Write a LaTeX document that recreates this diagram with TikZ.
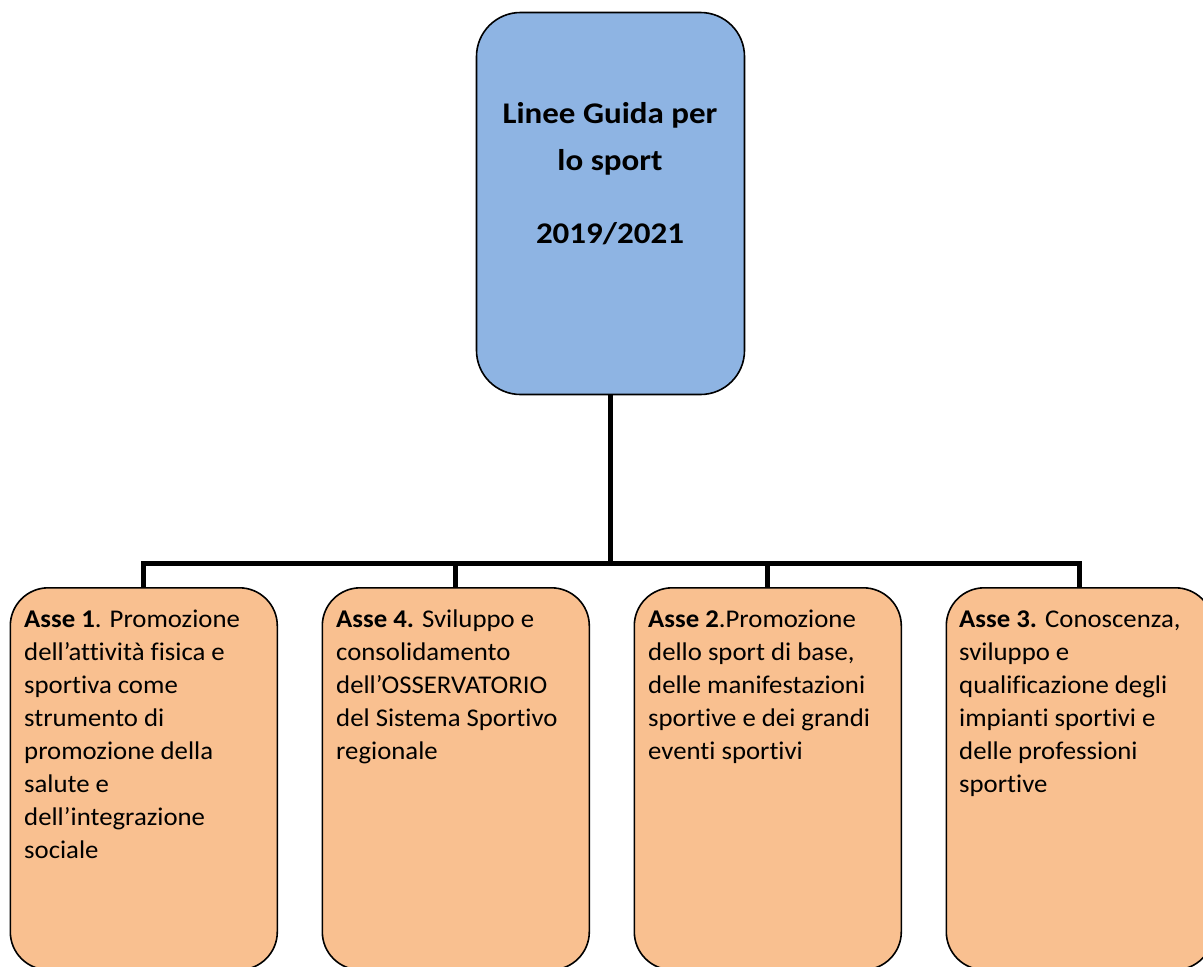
\documentclass[tikz,border=0pt]{standalone}
\usepackage{fontspec}
\setmainfont{Carlito}[FakeStretch=1.05,Ligatures=NoCommon]
\newfontfamily\topfont{Carlito}[FakeStretch=1.1,Ligatures=NoCommon]
\definecolor{topblue}{RGB}{142,180,227}
\definecolor{peach}{RGB}{249,192,144}
\newcommand{\boxlines}[1]{\vtop{\baselineskip=33pt\halign{##\hfil\cr#1\crcr}}}
\begin{document}
\begin{tikzpicture}[x=1pt,y=-1pt,
  topbox/.style={draw=black, line width=1.6pt, fill=topblue, rounded corners=44pt,
    minimum width=268pt, minimum height=382pt, inner sep=0pt},
  axbox/.style={draw=black, line width=1.6pt, fill=peach, rounded corners=38pt,
    minimum width=267pt, minimum height=382pt, anchor=north west, inner sep=0pt},
  axtext/.style={anchor=base west, inner sep=0pt,
    font=\fontsize{25.5}{33}\selectfont},
  toptext/.style={anchor=base, inner sep=0pt, font=\topfont\fontsize{30}{33}\selectfont\bfseries},
  link/.style={line width=5pt, line join=miter}
]
\useasboundingbox (0,0) rectangle (1203,967);
\clip (0,0) rectangle (1203,967);

\node[topbox] (top) at (610.5,203.5) {};
\node[toptext] (t1) at (610,123) {Linee Guida per};
\node[toptext] (t2) at (610,170) {lo sport};
\node[toptext] (t3) at (610,243) {2019/2021};

\node[axbox] (a1) at (9.5,587) {};
\node[axbox] (a2) at (321.5,587) {};
\node[axbox] (a3) at (633.5,587) {};
\node[axbox] (a4) at (945.5,587) {};

\coordinate (bus) at (610.5,563);
\draw[link] (top.south) -- (bus);
\draw[link] (a1.north) |- (bus);
\draw[link] (a2.north) |- (bus);
\draw[link] (a3.north) |- (bus);
\draw[link] (a4.north) |- (bus);

\node[axtext] (x1) at (24,627) {\boxlines{\textbf{Asse 1}. Promozione\cr dell’attività fisica e\cr sportiva come\cr strumento di\cr promozione della\cr salute e\cr dell’integrazione\cr sociale}};
\node[axtext] (x2) at (336,627) {\boxlines{\textbf{Asse 4.} Sviluppo e\cr consolidamento\cr dell’OSSERVATORIO\cr del Sistema Sportivo\cr regionale}};
\node[axtext] (x3) at (648,627) {\boxlines{\textbf{Asse 2}.Promozione\cr dello sport di base,\cr delle manifestazioni\cr sportive e dei grandi\cr eventi sportivi}};
\node[axtext] (x4) at (959,627) {\boxlines{\textbf{Asse 3.} Conoscenza,\cr sviluppo e\cr qualificazione degli\cr impianti sportivi e\cr delle professioni\cr sportive}};
\end{tikzpicture}
\end{document}
